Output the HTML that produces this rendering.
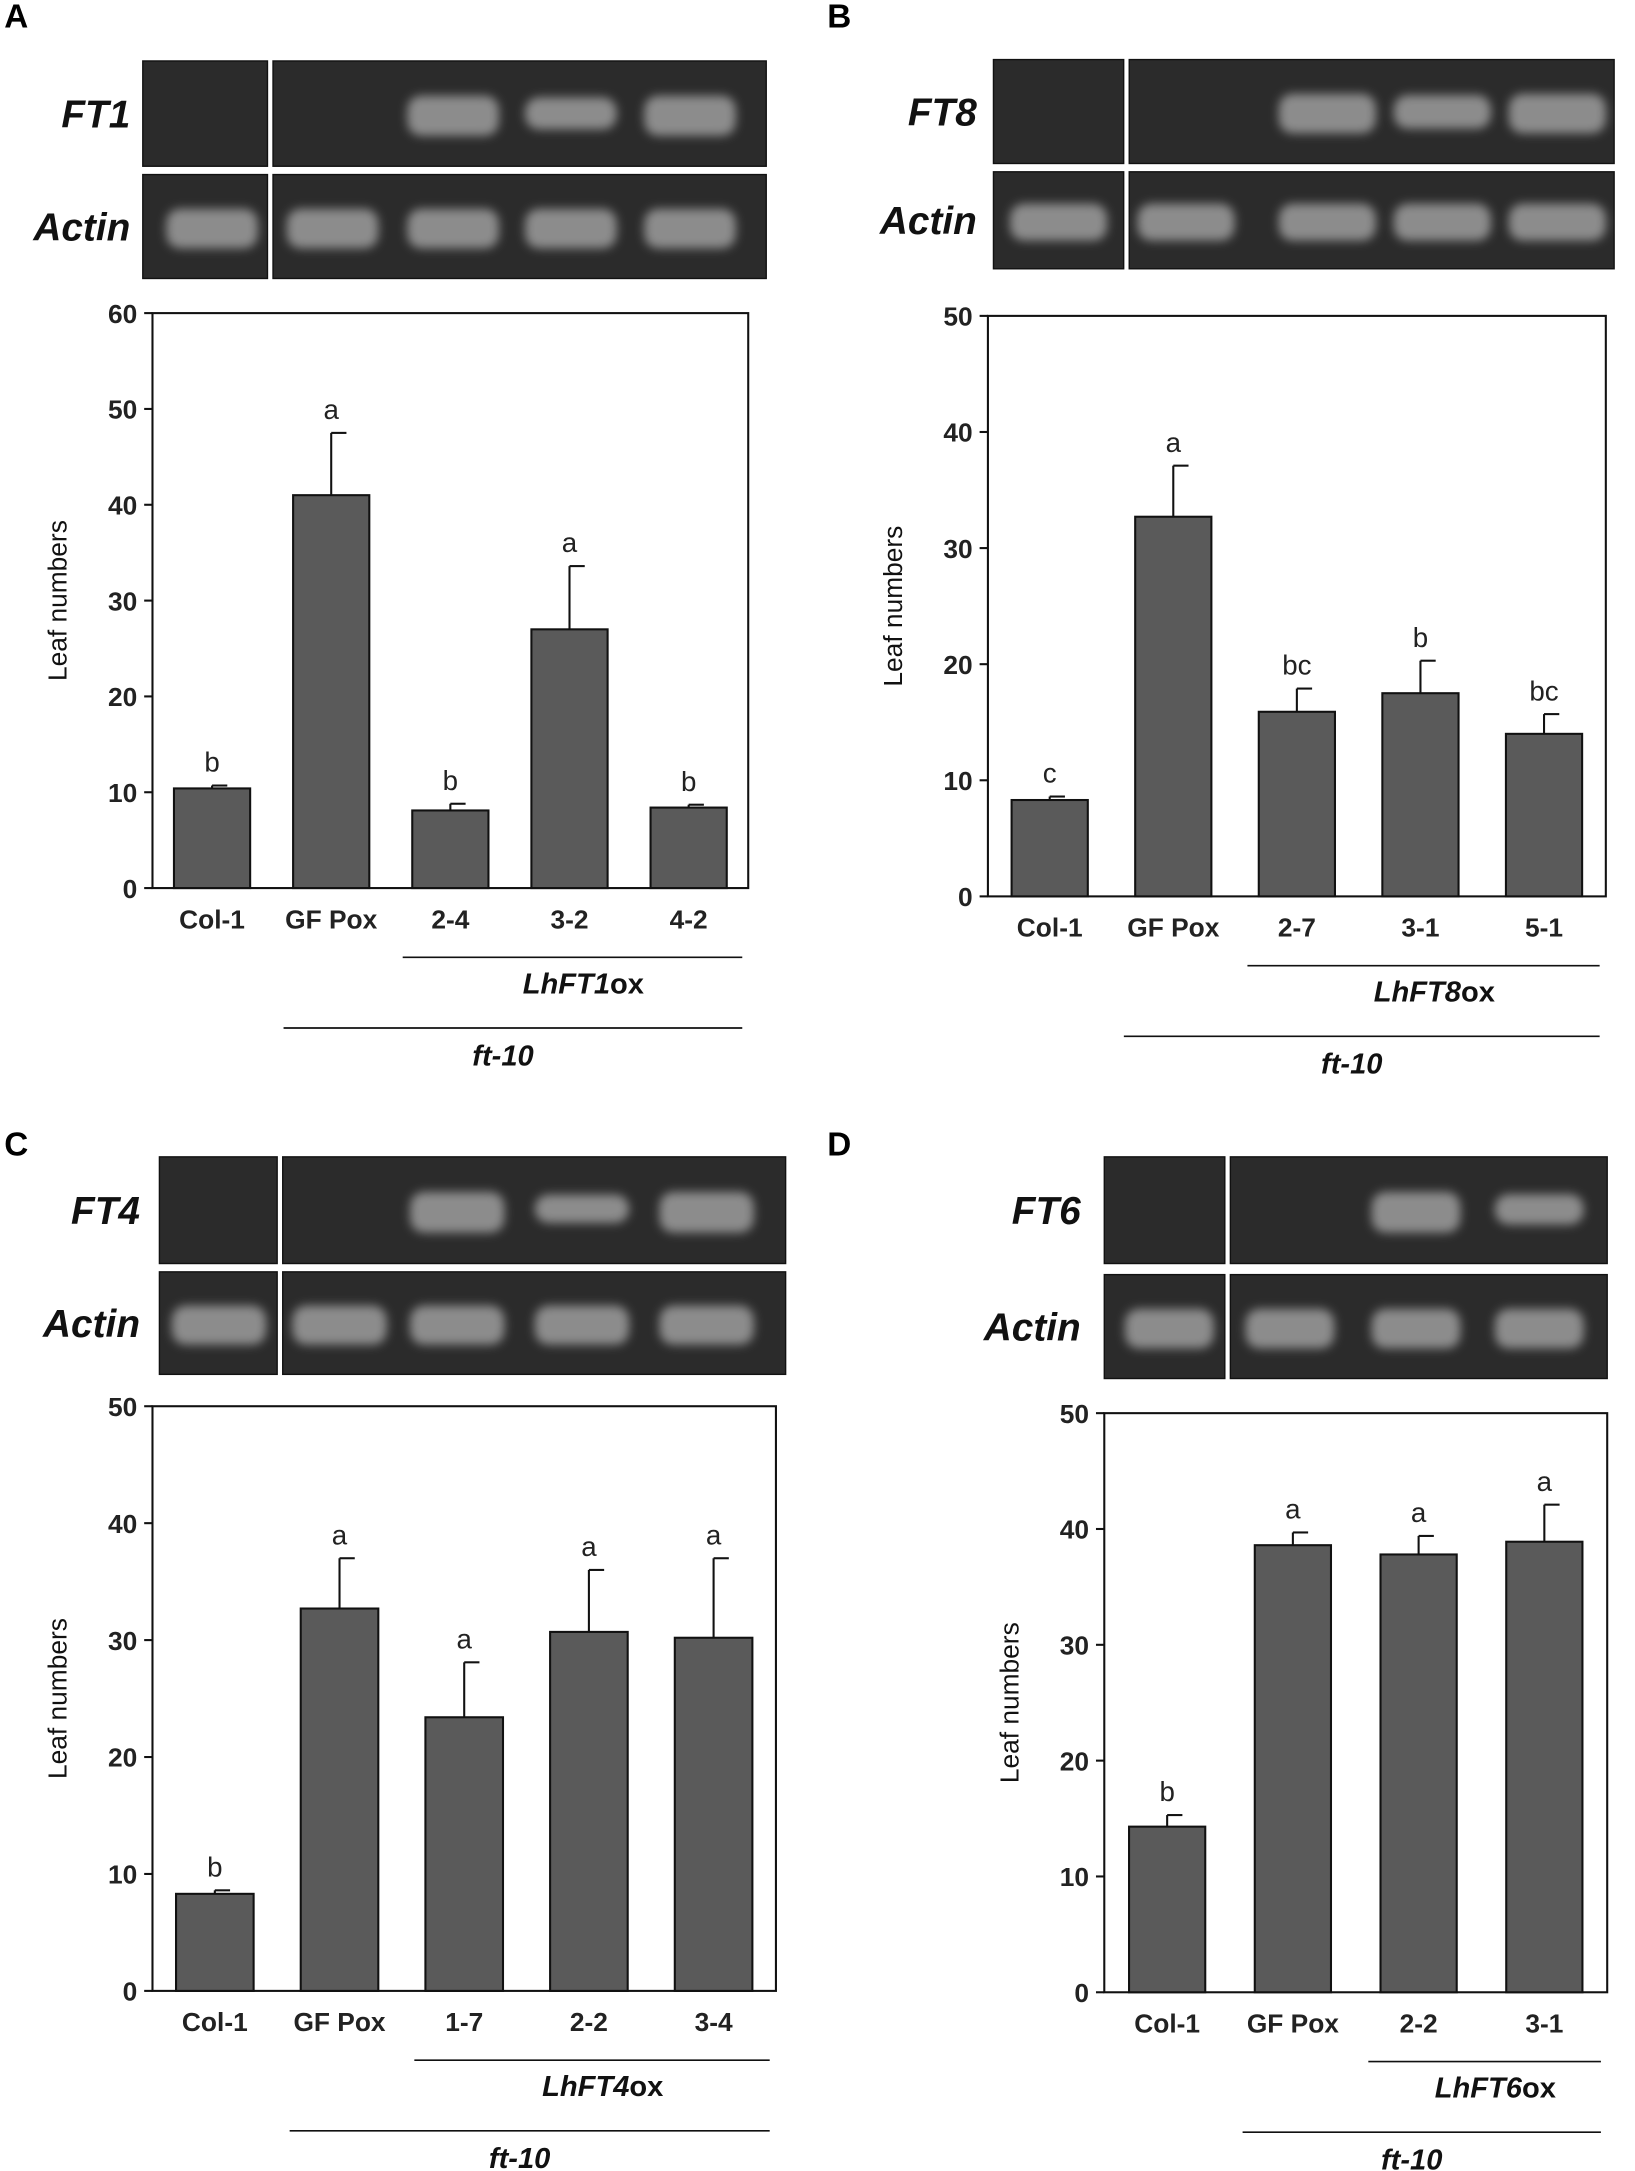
<!DOCTYPE html>
<html><head><meta charset="utf-8"><style>
html,body{margin:0;padding:0;background:#fff;}
svg{display:block;}
text{font-family:"Liberation Sans",sans-serif;}
</style></head><body>
<svg id="fig" width="1635" height="2171" viewBox="0 0 1180 1567" xmlns="http://www.w3.org/2000/svg">
<defs>
<filter id="blur" x="-30%" y="-60%" width="160%" height="220%"><feGaussianBlur stdDeviation="3.5"/></filter>
</defs>
</svg>
<script>
// Panel A data
const catsA = ["Col-1","GFPox","2-4","3-2","4-2"];
const valsA = [10.4, 41, 8.1, 27, 8.4];
const errsA = [0.3, 6.5, 0.7, 6.6, 0.3];
const letA = ["b","a","b","a","b"];
const ticksA = [0,10,20,30,40,50,60];
const ftBandA = [0,0,1,0.8,1];
// Panel B data
const catsB = ["Col-1","GFPox","2-7","3-1","5-1"];
const valsB = [8.3, 32.7, 15.9, 17.5, 14.0];
const errsB = [0.3, 4.4, 2.0, 2.8, 1.7];
const letB = ["c","a","bc","b","bc"];
const ticksB = [0,10,20,30,40,50];
const ftBandB = [0,0,1,0.85,1];
// Panel C data
const catsC = ["Col-1","GFPox","1-7","2-2","3-4"];
const valsC = [8.3, 32.7, 23.4, 30.7, 30.2];
const errsC = [0.3, 4.3, 4.7, 5.3, 6.8];
const letC = ["b","a","a","a","a"];
const ticksC = [0,10,20,30,40,50];
const ftBandC = [0,0,1,0.7,1];
// Panel D data
const catsD = ["Col-1","GFPox","2-2","3-1"];
const valsD = [14.3, 38.6, 37.8, 38.9];
const errsD = [1.0, 1.1, 1.6, 3.2];
const letD = ["b","a","a","a"];
const ticksD = [0,10,20,30,40,50];
const ftBandD = [0,0,1,0.75];

const NS="http://www.w3.org/2000/svg";
const svg=document.getElementById('fig');
function el(tag,attrs,parent){const e=document.createElementNS(NS,tag);for(const k in attrs)e.setAttribute(k,attrs[k]);(parent||svg).appendChild(e);return e;}
function txt(s,attrs,parent){const e=el('text',attrs,parent);e.textContent=s;return e;}

function panel(p){
  const g=el('g',{});
  
  
  const pl=txt(p.id,{x:p.lx,y:p.ly,'font-size':24,'font-weight':'bold'},g);
  
  
  [[p.r1,p.gene,p.ft],[p.r2,'Actin',null]].forEach((row,ri)=>{
    const [r,name,bands]=row;
    const gg=el('g',{},g);
    
    
    el('rect',{x:p.gx0,y:r[0],width:p.gsep-p.gx0,height:r[1]-r[0],fill:'#2b2b2b',stroke:'#111','stroke-width':1},gg);
    el('rect',{x:p.gsep+4,y:r[0],width:p.gx1-p.gsep-4,height:r[1]-r[0],fill:'#2b2b2b',stroke:'#111','stroke-width':1},gg);
    p.lanes.forEach((lx,i)=>{
      const b=bands?bands[i]:1;
      if(b<=0)return;
      const h=(r[1]-r[0]);
      el('rect',{x:lx-p.bw/2,y:r[0]+h*0.33+(1-b)*h*0.08,width:p.bw,height:h*0.38*b,rx:10,fill:'#8c8c8c',filter:'url(#blur)'},gg);
    });
    const lab=txt(name,{x:p.labx,y:(r[0]+r[1])/2+10,'font-size':28,'font-weight':'bold','font-style':'italic','text-anchor':'end',fill:'#111'},g);
    
    
  });
  const ymax=p.ticks[p.ticks.length-1];
  const Y=v=>p.bot-(v/ymax)*(p.bot-p.top);
  const ax=el('g',{},g);
  
  
  el('rect',{x:p.left,y:p.top,width:p.right-p.left,height:p.bot-p.top,fill:'none',stroke:'#111','stroke-width':1.5},ax);
  p.ticks.forEach(t=>{
    el('line',{x1:p.left-6,x2:p.left,y1:Y(t),y2:Y(t),stroke:'#111','stroke-width':1.5},ax);
    const tl=txt(String(t),{x:p.left-11,y:Y(t)+7,'font-size':19,'font-weight':'bold','text-anchor':'end',fill:'#222'},ax);
    
    
  });
  const yt=txt('Leaf numbers',{x:0,y:0,'font-size':19,'text-anchor':'middle',transform:`translate(${p.left-62},${(p.top+p.bot)/2}) rotate(-90)`,fill:'#111'},g);
  
  
  const n=p.cats.length;
  const step=(p.right-p.left)/n;
  p.cats.forEach((c,i)=>{
    const cx=p.left+step*(i+0.5);
    const v=p.vals[i],e=p.errs[i];
    const bar=el('rect',{x:cx-p.barw/2,y:Y(v),width:p.barw,height:p.bot-Y(v),fill:'#5a5a5a',stroke:'#111','stroke-width':1.5},g);
    
    
    el('line',{x1:cx,x2:cx,y1:Y(v),y2:Y(v+e),stroke:'#111','stroke-width':1.5},g);
    el('line',{x1:cx,x2:cx+11,y1:Y(v+e),y2:Y(v+e),stroke:'#111','stroke-width':1.5},g);
    const lt=txt(p.lets[i],{x:cx,y:Y(v+e)-10,'font-size':20,'text-anchor':'middle',fill:'#222'},g);
    
    
    const xl=txt(c==='GFPox'?'GF Pox':c,{x:cx,y:p.bot+29,'font-size':19,'font-weight':'bold','text-anchor':'middle',fill:'#222'},g);
    
    
  });
  const c2=p.left+step*2, cLast=p.right;
  el('line',{x1:c2+step*0.1,x2:cLast-step*0.05,y1:p.bot+50,y2:p.bot+50,stroke:'#111','stroke-width':1.2},g);
  const g1=txt('',{x:(c2+cLast)/2+10,y:p.bot+76,'font-size':21,'font-weight':'bold','text-anchor':'middle',fill:'#111'},g);
  
  
  const t1=el('tspan',{'font-style':'italic'},g1);t1.textContent='Lh'+p.gene;
  const t2=el('tspan',{},g1);t2.textContent='ox';
  const c1=p.left+step;
  el('line',{x1:c1+step*0.1,x2:cLast-step*0.05,y1:p.bot+101,y2:p.bot+101,stroke:'#111','stroke-width':1.2},g);
  const g2=txt('ft-10',{x:(c1+cLast)/2-5,y:p.bot+128,'font-size':21,'font-weight':'bold','font-style':'italic','text-anchor':'middle',fill:'#111'},g);
  
  
}

panel({id:'A',lx:3,ly:20,gene:'FT1',ft:ftBandA,r1:[44,120],r2:[126,201],gx0:103,gsep:193,gx1:553,labx:94,
  lanes:[153,240,327,412,498],bw:66,left:110,right:540,top:226,bot:641,barw:55,
  cats:catsA,vals:valsA,errs:errsA,lets:letA,ticks:ticksA});
panel({id:'B',lx:597,ly:20,gene:'FT8',ft:ftBandB,r1:[43,118],r2:[124,194],gx0:717,gsep:811,gx1:1165,labx:705,
  lanes:[764,856,958,1041,1124],bw:70,left:713,right:1159,top:228,bot:647,barw:55,
  cats:catsB,vals:valsB,errs:errsB,lets:letB,ticks:ticksB});
panel({id:'C',lx:3,ly:834,gene:'FT4',ft:ftBandC,r1:[835,912],r2:[918,992],gx0:115,gsep:200,gx1:567,labx:101,
  lanes:[158,245,330,420,510],bw:68,left:110,right:560,top:1015,bot:1437,barw:56,
  cats:catsC,vals:valsC,errs:errsC,lets:letC,ticks:ticksC});
panel({id:'D',lx:597,ly:834,gene:'FT6',ft:ftBandD,r1:[835,912],r2:[920,995],gx0:797,gsep:884,gx1:1160,labx:780,
  lanes:[844,931,1022,1111],bw:64,left:797,right:1160,top:1020,bot:1438,barw:55,
  cats:catsD,vals:valsD,errs:errsD,lets:letD,ticks:ticksD});
</script>
</body></html>
